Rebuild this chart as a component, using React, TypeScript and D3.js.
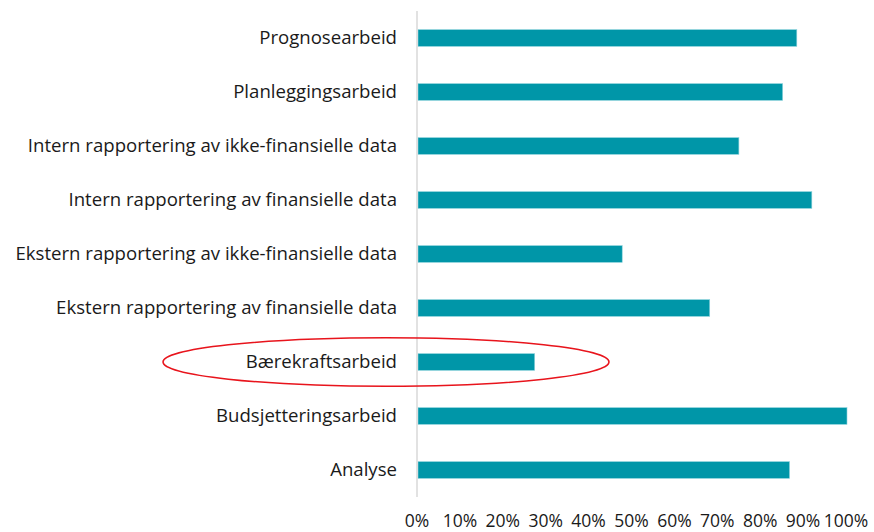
import React from "react";
import * as d3 from "d3";

const categories = [
  "Prognosearbeid",
  "Planleggingsarbeid",
  "Intern rapportering av ikke-finansielle data",
  "Intern rapportering av finansielle data",
  "Ekstern rapportering av ikke-finansielle data",
  "Ekstern rapportering av finansielle data",
  "Bærekraftsarbeid",
  "Budsjetteringsarbeid",
  "Analyse",
];
const values = [0.883, 0.85, 0.748, 0.918, 0.476, 0.68, 0.272, 1.0, 0.866];
const ticks = [0, 0.1, 0.2, 0.3, 0.4, 0.5, 0.6, 0.7, 0.8, 0.9, 1.0];
const highlighted = "Bærekraftsarbeid";

const W = 874;
const H = 532;
const FONT = "'Open Sans', sans-serif";

export default function App() {
  const x = d3.scaleLinear().domain([0, 1]).range([417, 846]);
  const y = d3
    .scaleBand<string>()
    .domain(categories)
    .range([11, 497])
    .paddingInner(0.69)
    .paddingOuter(0.345);
  const bw = y.bandwidth();
  const hy = (y(highlighted) as number) + bw / 2;

  return (
    <svg
      width={W}
      height={H}
      style={{ position: "absolute", left: 0, top: 0, background: "#fff" }}
    >
      {categories.map((c, i) => (
        <rect
          key={c}
          x={x(0) + 1}
          y={y(c)}
          width={x(values[i]) - x(0)}
          height={bw}
          fill="#0096a8"
          stroke="#8fd3dc"
          strokeWidth={0.6}
        />
      ))}
      <line x1={x(0)} x2={x(0)} y1={11} y2={497} stroke="#d9d9d9" strokeWidth={1.5} />
      {categories.map((c) => (
        <text
          key={c}
          x={397}
          y={(y(c) as number) + bw / 2 - 1.5}
          textAnchor="end"
          dominantBaseline="central"
          fontFamily={FONT}
          fontSize={18.6}
          fill="#1a1a1a"
        >
          {c}
        </text>
      ))}
      {ticks.map((t) => (
        <text
          key={t}
          x={x(t)}
          y={527}
          textAnchor="middle"
          fontFamily={FONT}
          fontSize={17.5}
          fill="#1a1a1a"
        >
          {d3.format(".0%")(t)}
        </text>
      ))}
      <ellipse
        cx={386}
        cy={hy}
        rx={223}
        ry={24.3}
        fill="none"
        stroke="#e8141c"
        strokeWidth={1.5}
      />
    </svg>
  );
}
